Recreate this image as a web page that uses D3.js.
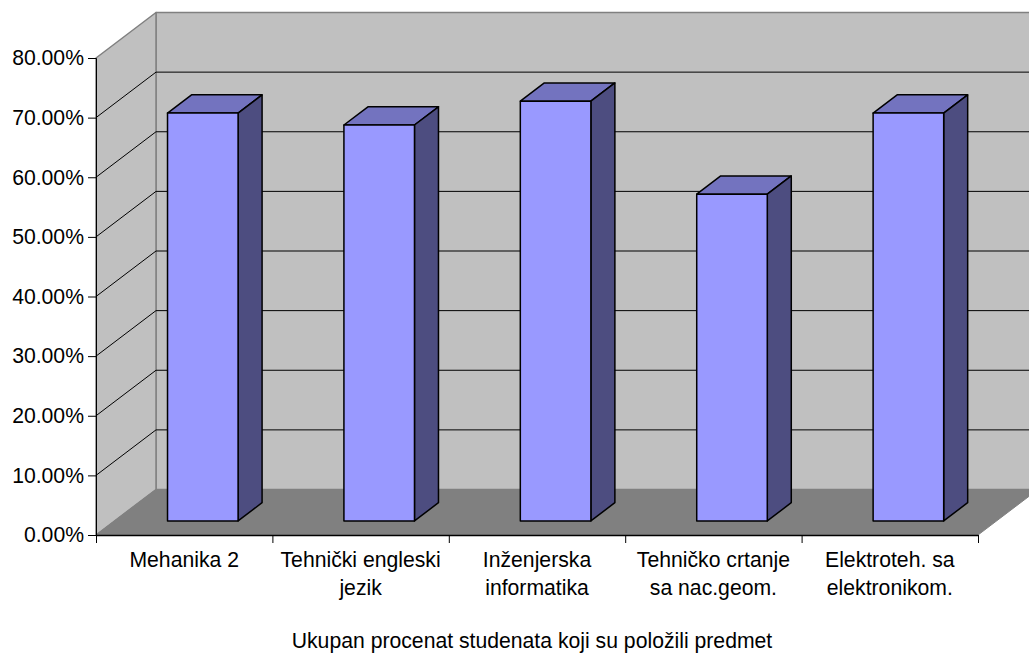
<!DOCTYPE html>
<html>
<head>
<meta charset="utf-8">
<script src="https://cdn.jsdelivr.net/npm/d3@7"></script>
<style>
body { margin: 0; background: #fff; }
svg { display: block; }
text { font-family: "Liberation Sans", Arial, sans-serif; font-size: 21.2px; fill: #000; }
</style>
</head>
<body>
<script>
var categories = ["Mehanika 2", "Tehnički engleski jezik", "Inženjerska informatika", "Tehničko crtanje sa nac.geom.", "Elektroteh. sa elektronikom."];
var categoryLines = [["Mehanika 2"], ["Tehnički engleski", "jezik"], ["Inženjerska", "informatika"], ["Tehničko crtanje", "sa nac.geom."], ["Elektroteh. sa", "elektronikom."]];
var values = [68.4, 66.4, 70.4, 54.8, 68.4];
var yTicks = [0, 10, 20, 30, 40, 50, 60, 70, 80];
var axisTitle = "Ukupan procenat studenata koji su položili predmet";

var totalWidth = 1029;
var totalHeight = 653;
var left = 96, right = 978, bottom = 535, top80 = 58;
var depthX = 60, depthY = -45.5;
var barFront = 0.31, barBack = 0.71;

var svg = d3.select("body")
    .append("svg")
    .attr("width", totalWidth)
    .attr("height", totalHeight);

var xScale = d3.scaleBand()
    .domain(categories)
    .range([left, right]);

var yScale = d3.scaleLinear()
    .domain([0, 80])
    .range([bottom, top80]);

// slide a point on the front plane back into the chart
function pt(x, y, d) {
    return [x + depthX * d, y + depthY * d];
}

function poly(points, fill, stroke, sw) {
    return svg.append("path")
        .attr("d", d3.line()(points) + "Z")
        .attr("fill", fill)
        .attr("stroke", stroke)
        .attr("stroke-width", sw)
        .attr("stroke-linejoin", "round");
}

var y0 = yScale(0), yTop = yScale(80);

// back wall, side wall, floor
poly([pt(left, yTop, 1), pt(right, yTop, 1), pt(right, y0, 1), pt(left, y0, 1)], "#c0c0c0", "#808080", 1.5);
poly([pt(left, yTop, 0), pt(left, yTop, 1), pt(left, y0, 1), pt(left, y0, 0)], "#c0c0c0", "#808080", 1.5);
poly([pt(left, y0, 0), pt(left, y0, 1), pt(right, y0, 1), pt(right, y0, 0)], "#808080", "#808080", 1);

// gridlines run along the side wall and across the back wall
var grid = yTicks.filter(function(t) { return t > 0 && t < 80; });
svg.append("g").selectAll("path")
    .data(grid)
    .join("path")
    .attr("d", function(t) {
        var y = yScale(t);
        return d3.line()([pt(left, y, 0), pt(left, y, 1), pt(right, y, 1)]);
    })
    .attr("fill", "none")
    .attr("stroke", "#000")
    .attr("stroke-width", 1);

// bars
categories.forEach(function(c, i) {
    var w = xScale.bandwidth() * 0.4;
    var x0 = xScale(c) + (xScale.bandwidth() - w) / 2;
    var x1 = x0 + w;
    var yv = yScale(values[i]);

    poly([pt(x0, yv, barFront), pt(x1, yv, barFront), pt(x1, yv, barBack), pt(x0, yv, barBack)], "#7373bf", "#000", 1.5);
    poly([pt(x1, y0, barFront), pt(x1, yv, barFront), pt(x1, yv, barBack), pt(x1, y0, barBack)], "#4d4d80", "#000", 1.5);
    poly([pt(x0, y0, barFront), pt(x1, y0, barFront), pt(x1, yv, barFront), pt(x0, yv, barFront)], "#9999ff", "#000", 1.5);
});

// axes
var yAxis = d3.axisLeft(yScale)
    .tickValues(yTicks)
    .tickSizeOuter(0)
    .tickSize(8)
    .tickFormat(function(d) { return d.toFixed(2) + "%"; });

var yAxisG = svg.append("g")
    .attr("transform", "translate(" + left + ",0)")
    .call(yAxis);
yAxisG.selectAll("text").attr("x", -12);

var xEdges = categories.map(function(c) { return xScale(c); }).concat([right]);
var xTickScale = d3.scalePoint().domain(xEdges).range([left, right]);
var xAxis = d3.axisBottom(xTickScale).tickSize(8).tickSizeOuter(0).tickFormat("");
svg.append("g")
    .attr("transform", "translate(0," + bottom + ")")
    .call(xAxis)
    .select(".domain")
    .attr("stroke-width", 1.5);

// category labels, one or two lines
svg.append("g").selectAll("text")
    .data(categories)
    .join("text")
    .attr("text-anchor", "middle")
    .attr("x", function(c) { return xScale(c) + xScale.bandwidth() / 2; })
    .attr("y", 567)
    .each(function(c, i) {
        d3.select(this).selectAll("tspan")
            .data(categoryLines[i])
            .join("tspan")
            .attr("x", xScale(c) + xScale.bandwidth() / 2)
            .attr("dy", function(l, j) { return j ? 27.5 : 0; })
            .text(function(l) { return l; });
    });

svg.append("text")
    .attr("x", 532)
    .attr("y", 648)
    .attr("text-anchor", "middle")
    .text(axisTitle);
</script>
</body>
</html>
